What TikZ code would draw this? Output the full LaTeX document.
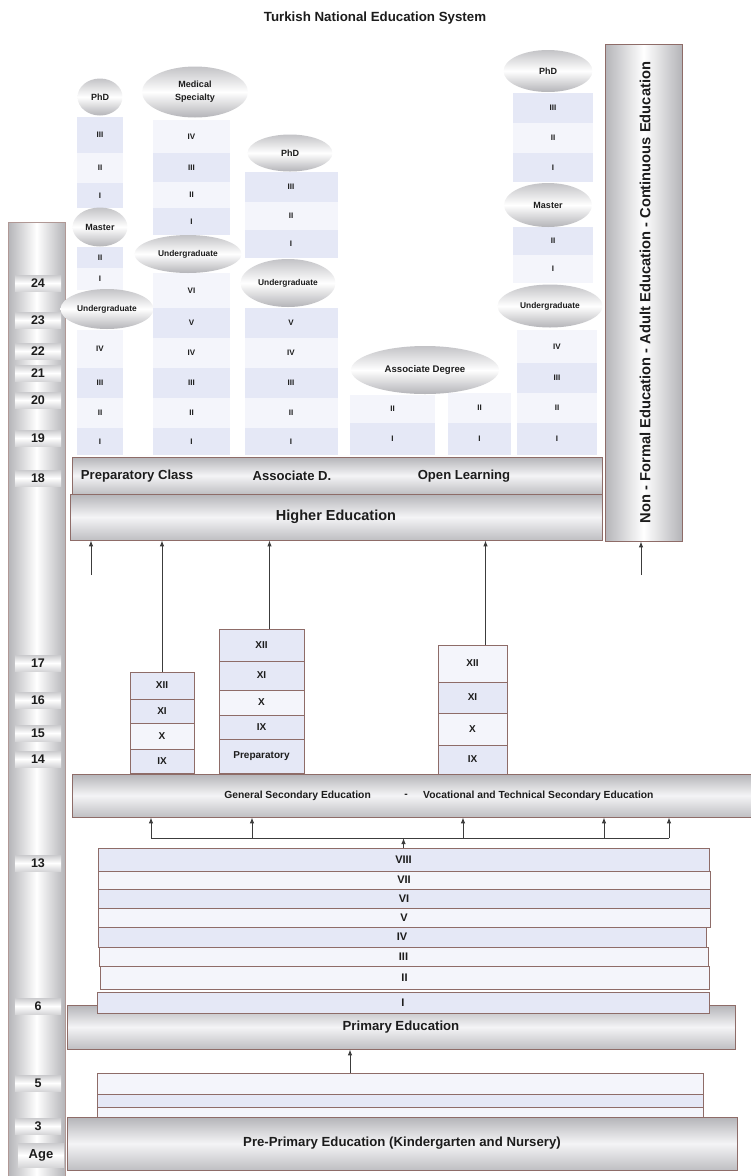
\documentclass[tikz,border=0pt]{standalone}
\usepackage{fontspec}
\setmainfont{Liberation Sans}
\usetikzlibrary{arrows.meta,positioning,shapes.geometric}

\definecolor{Ink}{HTML}{1C1C1C}
\definecolor{Rim}{HTML}{8E6C68}
\definecolor{Shade}{HTML}{B4B4B8}
\definecolor{Gloss}{HTML}{F4F4F6}
\definecolor{GradeA}{HTML}{E5E8F6}
\definecolor{GradeB}{HTML}{F4F5FB}
\definecolor{Wire}{HTML}{3C3C3C}

\newcommand{\bfsz}[1]{\fontsize{#1}{#1}\selectfont\bfseries}

\tikzset{
  heading/.style={font=\bfsz{13.3},text=Ink,inner sep=0pt},
  bartext/.style={font=\bfsz{13.1},text=Ink,inner sep=0pt},
  bar/.style={draw=Rim,line width=.7pt,top color=Shade,bottom color=Shade!85,middle color=Gloss,inner sep=0pt,text=Ink,font=\bfsz{13.2}},
  pillar/.style={draw=Rim,line width=.7pt,left color=Shade,right color=Shade,middle color=white,inner sep=0pt,text=Ink},
  agebox/.style={top color=Shade!70,bottom color=Shade!55,middle color=white,minimum width=46,minimum height=16,inner sep=0pt,text=Ink,font=\bfsz{12.5}},
  degree/.style={ellipse,top color=Shade!80,bottom color=Shade,middle color=white,inner sep=0pt,text=Ink,align=center,font=\bfsz{9}},
  degsmall/.style={font=\bfsz{8.4}},
  uniyear/.style={inner sep=0pt,text=Ink,font=\bfsz{8}},
  schoolyear/.style={draw=Rim,line width=.7pt,inner sep=0pt,text=Ink,font=\bfsz{10}},
  gradeyear/.style={draw=Rim,line width=.7pt,inner sep=0pt,text=Ink,font=\bfsz{11}},
  sectext/.style={font=\bfsz{10.3},text=Ink,inner sep=0pt},
  wire/.style={line width=1pt,draw=Wire},
  arr/.style={-{Latex[length=6pt,width=4.5pt]},line width=1pt,draw=Wire}
}

\begin{document}
\begin{tikzpicture}[x=1pt,y=-1pt]
  \useasboundingbox (0,0) rectangle (751,1176);

  \node[heading] (ttl) at (375,18) {Turkish National Education System};

  % age scale
  \node[pillar,draw=Rim!70,minimum width=57,minimum height=956] (agebar) at (36.5,700) {};
  \foreach \a/\y in {24/283,23/320,22/351,21/373,20/400,19/438,18/478,17/663,16/700,15/733,14/759,13/863,6/1006,5/1083,3/1126}
    \node[agebox] (age\a) at (38,\y) {\a};
  \node[agebox,minimum height=24,font=\bfsz{13}] (ageword) at (41,1155) {Age};

  % higher education columns
  \foreach \n/\ya/\yb/\fc in {III/117/153/GradeA,II/153/183/GradeB,I/183/208/GradeA}
    \node[uniyear,fill=\fc,minimum width=46,minimum height={\yb-\ya}] (phd1\n) at (100,{(\ya+\yb)/2}) {\n};
  \foreach \n/\ya/\yb/\fc in {II/247/268/GradeA,I/268/290/GradeB}
    \node[uniyear,fill=\fc,minimum width=46,minimum height={\yb-\ya}] (ms1\n) at (100,{(\ya+\yb)/2}) {\n};
  \foreach \n/\ya/\yb/\fc in {IV/330/368/GradeB,III/368/398/GradeA,II/398/428/GradeB,I/428/455/GradeA}
    \node[uniyear,fill=\fc,minimum width=46,minimum height={\yb-\ya}] (ug1\n) at (100,{(\ya+\yb)/2}) {\n};
  \node[degree,minimum width=45,minimum height=37] (phd1) at (100,97) {PhD};
  \node[degree,minimum width=55,minimum height=39] (ms1) at (100,227) {Master};
  \node[degree,degsmall,minimum width=93,minimum height=40] (ug1) at (107,309) {Undergraduate};

  \foreach \n/\ya/\yb/\fc in {IV/120/153/GradeB,III/153/182/GradeA,II/182/208/GradeB,I/208/235/GradeA}
    \node[uniyear,fill=\fc,minimum width=77,minimum height={\yb-\ya}] (med\n) at (191.5,{(\ya+\yb)/2}) {\n};
  \foreach \n/\ya/\yb/\fc in {VI/273/308/GradeB,V/308/338/GradeA,IV/338/368/GradeB,III/368/398/GradeA,II/398/428/GradeB,I/428/455/GradeA}
    \node[uniyear,fill=\fc,minimum width=77,minimum height={\yb-\ya}] (ug2\n) at (191.5,{(\ya+\yb)/2}) {\n};
  \node[degree,minimum width=106,minimum height=51] (med) at (195,92) {Medical\\[4pt]Specialty};
  \node[degree,degsmall,minimum width=107,minimum height=38] (ug2) at (188,254) {Undergraduate};

  \foreach \n/\ya/\yb/\fc in {III/172/202/GradeA,II/202/230/GradeB,I/230/258/GradeA}
    \node[uniyear,fill=\fc,minimum width=93,minimum height={\yb-\ya}] (phd3\n) at (291,{(\ya+\yb)/2}) {\n};
  \foreach \n/\ya/\yb/\fc in {V/308/338/GradeA,IV/338/368/GradeB,III/368/398/GradeA,II/398/428/GradeB,I/428/455/GradeA}
    \node[uniyear,fill=\fc,minimum width=93,minimum height={\yb-\ya}] (ug3\n) at (291,{(\ya+\yb)/2}) {\n};
  \node[degree,minimum width=85,minimum height=37] (phd3) at (290,153) {PhD};
  \node[degree,degsmall,minimum width=95,minimum height=48] (ug3) at (288,283) {Undergraduate};

  \foreach \n/\ya/\yb/\fc in {II/395/423/GradeB,I/423/455/GradeA}
    \node[uniyear,fill=\fc,minimum width=85,minimum height={\yb-\ya}] (asl\n) at (392.5,{(\ya+\yb)/2}) {\n};
  \foreach \n/\ya/\yb/\fc in {II/393/423/GradeB,I/423/455/GradeA}
    \node[uniyear,fill=\fc,minimum width=63,minimum height={\yb-\ya}] (asr\n) at (479.5,{(\ya+\yb)/2}) {\n};
  \node[degree,font=\bfsz{9.6},minimum width=148,minimum height=48] (assoc) at (425,370) {Associate Degree};

  \foreach \n/\ya/\yb/\fc in {III/93/123/GradeA,II/123/153/GradeB,I/153/182/GradeA}
    \node[uniyear,fill=\fc,minimum width=80,minimum height={\yb-\ya}] (phd5\n) at (553,{(\ya+\yb)/2}) {\n};
  \foreach \n/\ya/\yb/\fc in {II/227/255/GradeA,I/255/283/GradeB}
    \node[uniyear,fill=\fc,minimum width=80,minimum height={\yb-\ya}] (ms5\n) at (553,{(\ya+\yb)/2}) {\n};
  \foreach \n/\ya/\yb/\fc in {IV/330/363/GradeB,III/363/393/GradeA,II/393/423/GradeB,I/423/455/GradeA}
    \node[uniyear,fill=\fc,minimum width=80,minimum height={\yb-\ya}] (ug5\n) at (557,{(\ya+\yb)/2}) {\n};
  \node[degree,minimum width=89,minimum height=42] (phd5) at (548,71) {PhD};
  \node[degree,minimum width=88,minimum height=44] (ms5) at (548,205) {Master};
  \node[degree,degsmall,minimum width=105,minimum height=43] (ug5) at (550,306) {Undergraduate};

  % higher education bars
  \node[bar,minimum width=530,minimum height=37] (prep) at (337,475.5) {};
  \node[bartext] (prepcls) at (137,476) {Preparatory Class};
  \node[bartext] (assocd) at (292,476) {Associate D.};
  \node[bartext] (openl) at (464,476) {Open Learning};
  \node[bar,font=\bfsz{14.5},minimum width=532,minimum height=46] (higher) at (336,517) {Higher Education};

  \node[pillar,minimum width=77,minimum height=497] (nonformal) at (643.5,292.5) {};
  \node[rotate=90,font=\bfsz{14.7},text=Ink,inner sep=0pt] (nftext) at (645,292.5) {Non - Formal Education - Adult Education - Continuous Education};

  % secondary stacks
  \foreach \n/\ya/\yb/\fc in {XII/672/699/GradeA,XI/699/723/GradeA,X/723/749/GradeB,IX/749/773/GradeA}
    \node[schoolyear,fill=\fc,minimum width=64,minimum height={\yb-\ya}] (gen\n) at (162,{(\ya+\yb)/2}) {\n};
  \foreach \n/\ya/\yb/\fc in {XII/629/661/GradeA,XI/661/690/GradeA,X/690/715/GradeB,IX/715/739/GradeA,Preparatory/739/773/GradeA}
    \node[schoolyear,fill=\fc,minimum width=85,minimum height={\yb-\ya}] (prp\n) at (261.5,{(\ya+\yb)/2}) {\n};
  \foreach \n/\ya/\yb/\fc in {XII/645/682/GradeB,XI/682/713/GradeA,X/713/745/GradeB,IX/745/774/GradeA}
    \node[schoolyear,fill=\fc,minimum width=69,minimum height={\yb-\ya}] (voc\n) at (472.5,{(\ya+\yb)/2}) {\n};

  \node[bar,minimum width=680,minimum height=43] (second) at (412,795.5) {};
  \node[sectext,anchor=east] (gentxt) at (371,796) {General Secondary Education};
  \node[sectext] (dash) at (406,796) {-};
  \node[sectext,anchor=west] (voctxt) at (423,796) {Vocational and Technical Secondary Education};

  % links to higher education
  \coordinate (prptop) at ([xshift=8]prpXII.north);
  \coordinate (voctop) at ([xshift=13]vocXII.north);
  \coordinate (hefree) at (91,575);
  \coordinate (nffree) at (641,575);
  \draw[arr] (genXII.north) -- (genXII.north |- higher.south);
  \draw[arr,line width=1.4pt] (prptop) -- (prptop |- higher.south);
  \draw[arr] (voctop) -- (voctop |- higher.south);
  \draw[arr] (hefree) -- (hefree |- higher.south);
  \draw[arr] (nffree) -- (nffree |- nonformal.south);

  % primary education
  \node[bar,minimum width=668,minimum height=44] (primary) at (401,1027) {Primary Education};
  \foreach \n/\ya/\yb/\xa/\xb/\fc in {I/992/1013/97/709/GradeA,II/966/989/100/709/GradeB,III/947/966/99/708/GradeB,IV/927/947/98/706/GradeA,V/908/927/98/710/GradeB,VI/889/908/98/710/GradeA,VII/871/889/98/710/GradeB,VIII/848/871/98/709/GradeA}
    \node[gradeyear,fill=\fc,minimum width={\xb-\xa},minimum height={\yb-\ya}] (prim\n) at ({(\xa+\xb)/2},{(\ya+\yb)/2}) {\n};

  % links to secondary education
  \coordinate (busL) at (151,838);
  \coordinate (busR) at (669,838);
  \draw[wire] (busL) -- (busR);
  \draw[arr] (primVIII.north) -- (primVIII.north |- busL);
  \foreach \x [count=\i] in {151,252,463,604,669}{
    \coordinate (drop\i) at (\x,838);
    \draw[arr] (drop\i) -- (drop\i |- second.south);
  }

  % pre-primary education
  \node[bar,minimum width=670,minimum height=53] (preprimary) at (402,1143.5) {Pre-Primary Education (Kindergarten and Nursery)};
  \foreach \n/\ya/\yb/\fc in {A/1073/1094/GradeB,B/1094/1107/GradeA,C/1107/1117/GradeB}
    \node[gradeyear,fill=\fc,minimum width=606,minimum height={\yb-\ya}] (kg\n) at (400,{(\ya+\yb)/2}) {};
  \coordinate (kgup) at (350,0);
  \draw[arr] (kgup |- kgA.north) -- (kgup |- primary.south);
\end{tikzpicture}
\end{document}
